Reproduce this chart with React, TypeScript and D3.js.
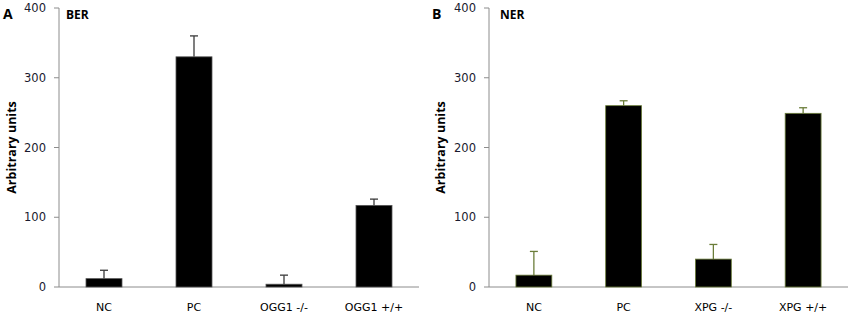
import React from "react";
import * as d3 from "d3";

const berCategories = ["NC", "PC", "OGG1 -/-", "OGG1 +/+"];
const berValues = [12, 330, 4, 117];
const berErrors = [12, 30, 13, 9];

const nerCategories = ["NC", "PC", "XPG -/-", "XPG +/+"];
const nerValues = [17, 260, 40, 249];
const nerErrors = [34, 7, 21, 8];

const yTicks = [0, 100, 200, 300, 400];

interface PanelProps {
  letter: string;
  title: string;
  categories: string[];
  values: number[];
  errors: number[];
  x0: number;
  x1: number;
  letterX: number;
  titleX: number;
  axisTitleX: number;
  strokeColor: string;
  errColor: string;
}

const FONT = "'Open Sans', 'DejaVu Sans', sans-serif";
const TFONT = "'DejaVu Sans', sans-serif";

function Panel(p: PanelProps) {
  const top = 8;
  const bottom = 287;
  const y = d3.scaleLinear().domain([0, 400]).range([bottom, top]);
  const x = d3.scaleBand().domain(p.categories).range([p.x0, p.x1]).paddingInner(0.6).paddingOuter(0.3);
  const bw = x.bandwidth();
  return (
    <g>
      <text x={p.letterX} y={19} fontFamily={FONT} fontWeight="bold" fontSize={14} fill="#000">{p.letter}</text>
      <text x={p.titleX} y={19} fontFamily={FONT} fontWeight="bold" fontSize={12} fill="#000">{p.title}</text>
      {/* y axis */}
      <line x1={p.x0} x2={p.x0} y1={top} y2={bottom} stroke="#8c8c8c" strokeWidth={1} />
      {yTicks.map((t) => (
        <g key={t}>
          <line x1={p.x0 - 5} x2={p.x0} y1={y(t)} y2={y(t)} stroke="#8c8c8c" />
          <text x={p.x0 - 13} y={y(t)} dy="0.36em" textAnchor="end" fontFamily={TFONT} fontSize={11.5} fill="#1a1a2e">{t}</text>
        </g>
      ))}
      <text
        transform={`translate(${p.axisTitleX},${(top + bottom) / 2}) rotate(-90)`}
        textAnchor="middle"
        fontFamily={FONT}
        fontWeight="bold"
        fontSize={12.5}
        fill="#000"
      >Arbitrary units</text>
      {/* x axis */}
      <line x1={p.x0} x2={p.x1} y1={bottom} y2={bottom} stroke="#8c8c8c" strokeWidth={1} />
      {p.categories.map((c, i) => {
        const bx = x(c)!;
        const cx = bx + bw / 2;
        return (
          <g key={c}>
            <line x1={cx} x2={cx} y1={y(p.values[i])} y2={y(p.values[i] + p.errors[i])} stroke={p.errColor} strokeWidth={1.3} />
            <line x1={cx - 4} x2={cx + 4} y1={y(p.values[i] + p.errors[i])} y2={y(p.values[i] + p.errors[i])} stroke={p.errColor} strokeWidth={1.3} />
            <rect x={bx} y={y(p.values[i])} width={bw} height={bottom - y(p.values[i])} fill="#000" stroke={p.strokeColor} strokeWidth={0.8} />
            <text x={cx} y={311} textAnchor="middle" fontFamily={TFONT} fontSize={11} fill="#000">{c}</text>
          </g>
        );
      })}
    </g>
  );
}

export default function App() {
  return (
    <svg width={851} height={316} style={{ position: "absolute", left: 0, top: 0, background: "#fff" }}>
      <rect width={851} height={316} fill="#fff" />
      <Panel
        letter="A"
        title="BER"
        categories={berCategories}
        values={berValues}
        errors={berErrors}
        x0={59}
        x1={419}
        letterX={3}
        titleX={66}
        axisTitleX={16}
        strokeColor="#555"
        errColor="#3a3a3a"
      />
      <Panel
        letter="B"
        title="NER"
        categories={nerCategories}
        values={nerValues}
        errors={nerErrors}
        x0={489}
        x1={848}
        letterX={432}
        titleX={500}
        axisTitleX={445}
        strokeColor="#6b7d3a"
        errColor="#6b7d3a"
      />
    </svg>
  );
}
